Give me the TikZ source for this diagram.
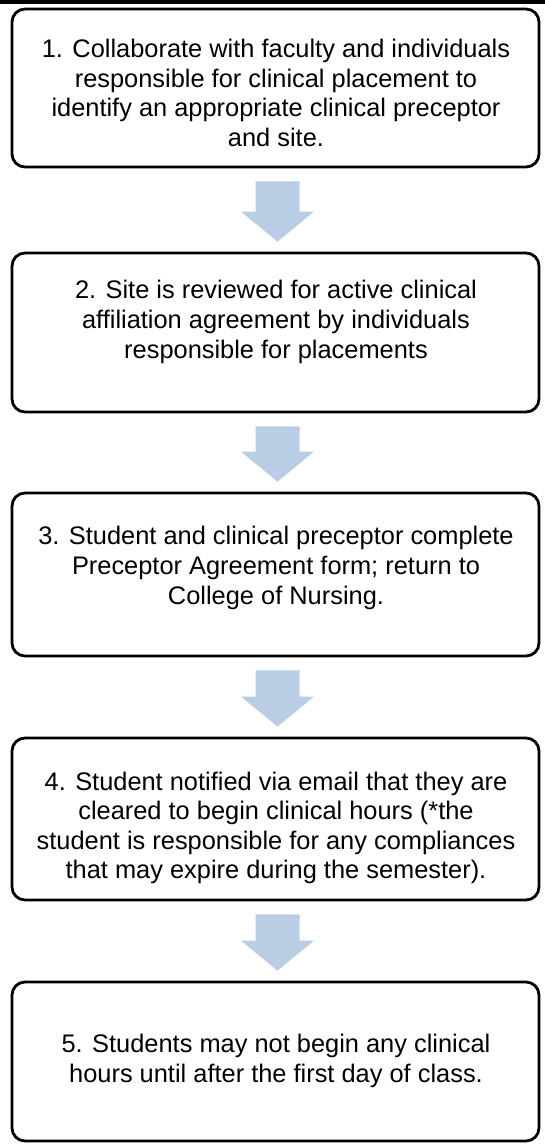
\documentclass[tikz,border=0pt]{standalone}
\usepackage{fontspec}
\setmainfont{Liberation Sans}
\usetikzlibrary{calc}
\definecolor{flowblue}{HTML}{B9CDE5}
\tikzset{
  stepbox/.style={draw=black, line width=2.8pt, rounded corners=13pt,
    minimum width=527pt, inner sep=0pt},
  steptext/.style={align=center, inner sep=0pt,
    font=\fontsize{25.4}{29.6}\selectfont},
}
% block arrow between two step boxes
\newcommand{\flowarrow}[2]{%
  \fill[flowblue]
    ($(#1.south)+(-20pt,-13pt)$) -- ($(#1.south)+(24pt,-13pt)$) --
    ($(#2.north)+(24pt,40pt)$) -- ($(#2.north)+(38.5pt,40pt)$) --
    ($(#2.north)+(2pt,10pt)$) --
    ($(#2.north)+(-34.5pt,40pt)$) -- ($(#2.north)+(-20pt,40pt)$) -- cycle;}
\begin{document}
\begin{tikzpicture}[x=1pt,y=1pt]
\useasboundingbox (0,0) rectangle (545,-1145);
% header rule
\fill[black] (0,0) rectangle (545,-3.6);

% step boxes
\node[stepbox, minimum height=158pt] (b1) at (275.5,-88) {};
\node[stepbox, minimum height=159pt] (b2) at (275.5,-332.5) {};
\node[stepbox, minimum height=163pt] (b3) at (275.5,-574.5) {};
\node[stepbox, minimum height=162pt] (b4) at (275.5,-819) {};
\node[stepbox, minimum height=159pt] (b5) at (275.5,-1061.5) {};

% step texts
\node[steptext] (t1) at (276,-93) {1. Collaborate with faculty and individuals\\responsible for clinical placement to\\identify an appropriate clinical preceptor\\and site.};
\node[steptext] (t2) at (276,-322) {2. Site is reviewed for active clinical\\affiliation agreement by individuals\\responsible for placements};
\node[steptext] (t3) at (276,-568) {3. Student and clinical preceptor complete\\Preceptor Agreement form; return to\\College of Nursing.};
\node[steptext] (t4) at (276,-828) {4. Student notified via email that they are\\cleared to begin clinical hours (*the\\student is responsible for any compliances\\that may expire during the semester).};
\node[steptext] (t5) at (276,-1061) {5. Students may not begin any clinical\\hours until after the first day of class.};

% arrows
\flowarrow{b1}{b2}
\flowarrow{b2}{b3}
\flowarrow{b3}{b4}
\flowarrow{b4}{b5}
\end{tikzpicture}
\end{document}
